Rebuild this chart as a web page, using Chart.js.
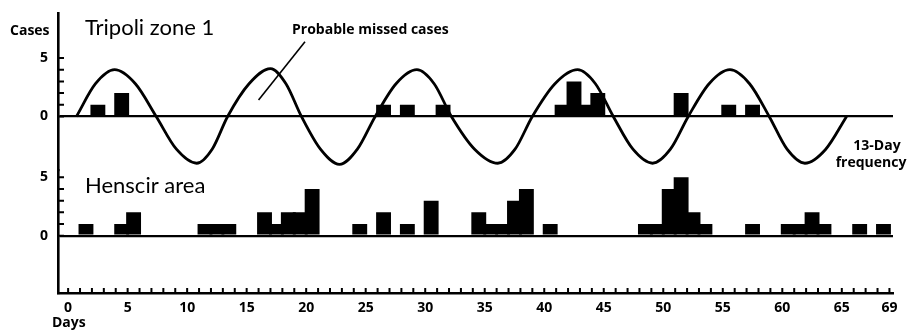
<!DOCTYPE html>
<html><head><meta charset="utf-8">
<script src="https://cdn.jsdelivr.net/npm/chart.js@4.4.1/dist/chart.umd.min.js"></script>
<style>html,body{margin:0;padding:0;background:#fff}</style>
</head><body>
<canvas id="c" width="912" height="332"></canvas>
<script>
// ---- data ----
const dayTicks = Array.from({length: 70}, (_, i) => i);           // minor ticks, days 0..69
const dayLabels = [0, 5, 10, 15, 20, 25, 30, 35, 40, 45, 50, 55, 60, 65, 69];
const caseTicks = [0, 1, 2, 3, 4, 5];
const caseLabels = [0, 5];

const tripoliDays  = [2, 4, 26, 28, 31, 41, 42, 43, 44, 51, 55, 57];
const tripoliCases = [1, 2, 1, 1, 1, 1, 3, 1, 2, 2, 1, 1];

const henscirDays  = [1, 4, 5, 11, 12, 13, 16, 17, 18, 19, 20, 24, 26, 28, 30, 34, 35, 36, 37, 38, 40, 48, 49, 50, 51, 52, 53, 57, 60, 61, 62, 63, 66, 68];
const henscirCases = [1, 1, 2, 1, 1, 1, 2, 1, 2, 2, 4, 1, 2, 1, 3, 2, 1, 1, 3, 4, 1, 1, 1, 4, 5, 2, 1, 1, 1, 1, 2, 1, 1, 1];

// 13-day wave, points
const waveDays   = [0.7, 2.3, 3.9, 5.65, 7.4, 9.1, 10.8, 12.1, 13.4, 15.2, 17.0, 18.3, 19.6, 21.2, 22.8, 24.3, 25.8, 27.55, 29.3, 30.75, 32.2, 34.15, 36.1, 37.55, 39.0, 40.9, 42.8, 44.3, 45.8, 47.45, 49.1, 50.6, 52.1, 53.85, 55.6, 57.25, 58.9, 60.4, 61.9, 63.65, 65.4];
const waveValues = [0, 2.8, 4.0, 2.8, 0, -2.8, -4.0, -2.8, 0, 2.8, 4.1, 2.8, 0, -2.8, -4.1, -2.8, 0, 2.8, 4.0, 2.8, 0, -2.8, -4.0, -2.8, 0, 2.8, 4.0, 2.8, 0, -2.8, -4.0, -2.8, 0, 2.8, 4.0, 2.8, 0, -2.8, -4.0, -2.8, 0];

// ---- chart ----
const FONT = 'Lato, "Open Sans", sans-serif';
const BOLD = '"Open Sans", Lato, sans-serif';
const bars = (days, vals) => days.map((d, i) => ({x: d + 0.5, y: vals[i]}));

const decor = {
  id: 'decor',
  afterDraw(chart) {
    const {ctx, scales: {x, yT, yH}} = chart;
    ctx.save();
    ctx.strokeStyle = '#000';
    ctx.fillStyle = '#000';
    ctx.lineWidth = 2;
    ctx.beginPath();
    x.ticks.forEach(t => {
      const px = x.getPixelForValue(t.value);
      ctx.moveTo(px, x.top);
      ctx.lineTo(px, x.top - 5);
    });
    [yT, yH].forEach(s => s.ticks.forEach(t => {
      const py = s.getPixelForValue(t.value);
      ctx.moveTo(s.right, py);
      ctx.lineTo(s.right + 6, py);
    }));
    ctx.stroke();
    // pointer for "Probable missed cases"
    ctx.lineWidth = 1.6;
    ctx.beginPath();
    ctx.moveTo(x.getPixelForValue(19.9), yT.getPixelForValue(6.4));
    ctx.lineTo(x.getPixelForValue(16.0), yT.getPixelForValue(1.4));
    ctx.stroke();
    // texts
    ctx.textBaseline = 'alphabetic';
    ctx.textAlign = 'left';
    ctx.font = 'bold 14px ' + BOLD;
    ctx.fillText('Cases', 10, 35);
    ctx.fillText('Probable missed cases', 292, 34);
    ctx.fillText('Days', 52, 327);
    ctx.textAlign = 'center';
    ctx.fillText('13-Day', 877, 150);
    ctx.fillText('frequency', 871, 167);
    ctx.textAlign = 'left';
    ctx.font = '22px ' + FONT;
    ctx.fillText('Tripoli zone 1', 85, 35);
    ctx.fillText('Henscir area', 85, 193);
    ctx.restore();
  }
};

const yScale = (min, max, weight) => ({
  type: 'linear', position: 'left', stack: 'panels', stackWeight: weight,
  min, max,
  afterBuildTicks: s => { s.ticks = caseTicks.map(v => ({value: v})); },
  afterFit: s => { s.width = 58; s.paddingTop = 0; s.paddingBottom = 0; },
  ticks: {
    autoSkip: false, padding: 10, color: '#000',
    font: {family: BOLD, size: 14, weight: 'bold'},
    callback: v => caseLabels.includes(v) ? String(v) : ''
  },
  grid: {
    drawTicks: false,
    color: c => (c.tick && c.tick.value === 0) ? '#000' : 'rgba(0,0,0,0)',
    lineWidth: 2.2
  },
  border: {display: true, color: '#000', width: 2.6}
});

new Chart(document.getElementById('c'), {
  type: 'bar',
  data: {
    datasets: [
      {
        type: 'line', label: '13-Day frequency', yAxisID: 'yT',
        data: waveDays.map((d, i) => ({x: d, y: waveValues[i]})),
        borderColor: '#000', borderWidth: 2.8, pointRadius: 0,
        cubicInterpolationMode: 'monotone', fill: false, order: 0
      },
      {
        label: 'Tripoli zone 1', yAxisID: 'yT', data: bars(tripoliDays, tripoliCases),
        backgroundColor: '#000', grouped: false, barPercentage: 1.25, categoryPercentage: 1, order: 1
      },
      {
        label: 'Henscir area', yAxisID: 'yH', data: bars(henscirDays, henscirCases),
        backgroundColor: '#000', grouped: false, barPercentage: 1.25, categoryPercentage: 1, order: 1
      }
    ]
  },
  options: {
    responsive: false, animation: false,
    layout: {padding: {left: 0, top: 13, right: 19, bottom: 0}},
    plugins: {legend: {display: false}, tooltip: {enabled: false}},
    scales: {
      x: {
        type: 'linear', min: -0.85, max: 69.3, offset: false,
        afterBuildTicks: s => { s.ticks = dayTicks.map(v => ({value: v})); },
        afterFit: s => { s.height = 39; s.paddingLeft = 0; s.paddingRight = 0; },
        ticks: {
          autoSkip: false, maxRotation: 0, padding: 7, color: '#000',
          font: {family: BOLD, size: 14, weight: 'bold'},
          callback: v => dayLabels.includes(v) ? String(v) : ''
        },
        grid: {display: false, drawTicks: false},
        border: {display: true, color: '#000', width: 2.6}
      },
      yH: yScale(-4.9, 5.6, 10.5),
      yT: yScale(-4.6, 8.85, 13.45)
    }
  },
  plugins: [decor]
});
</script>
</body></html>
